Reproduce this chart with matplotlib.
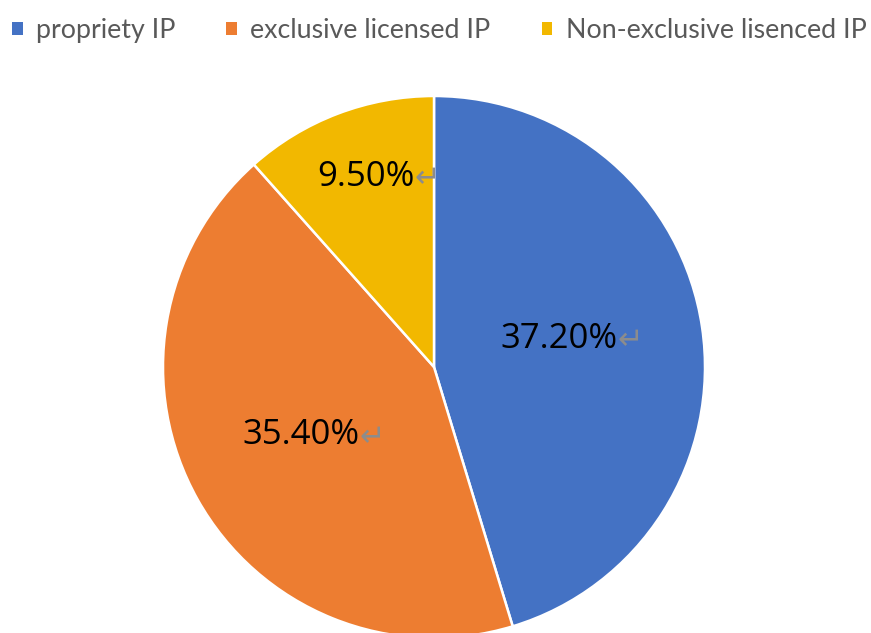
import numpy as np
import matplotlib.pyplot as plt
from matplotlib.patches import Patch

categories = ["propriety IP", "exclusive licensed IP", "Non-exclusive lisenced IP"]
values = [37.2, 35.4, 9.5]
colors = ["#4472C4", "#ED7D31", "#F2B800"]
label_dist = [0.474, 0.551, 0.745]
label_turn = [4, -2, -1]  # degrees off the wedge middle

plt.rcParams['font.family'] = ['Lato', 'DejaVu Sans']

fig = plt.figure(figsize=(8.71, 6.33), dpi=100)
ax = fig.add_axes([0, 0, 1, 1])

wedges, _ = ax.pie(values, colors=colors, startangle=90, counterclock=False,
                   radius=1, wedgeprops=dict(edgecolor="white", linewidth=1.8))

# pie centre at (434, 367) px, radius 271 px
r = 271
ax.set_xlim(-434 / r, (871 - 434) / r)
ax.set_ylim(-(633 - 367) / r, 367 / r)
ax.set_aspect('auto')
ax.axis('off')

for w, v, d, dt in zip(wedges, values, label_dist, label_turn):
    ang = np.deg2rad((w.theta1 + w.theta2) / 2 + dt)
    t = ax.text(d * np.cos(ang), d * np.sin(ang), f"{v:.2f}%", ha='center', va='center',
                fontsize=25, color='black', family=['Open Sans', 'DejaVu Sans'])
    ax.annotate("\u21b5", xy=(1, 0.45), xycoords=t, va='center', ha='left',
                fontsize=22, color='#8c8c8c', family='DejaVu Sans')

handles = [Patch(facecolor=c, edgecolor='none') for c in colors]
fig.legend(handles, categories, loc='upper left', bbox_to_anchor=(0.0, 0.99), ncol=3,
           frameon=False, fontsize=19.3, labelcolor='#595959', handlelength=0.4,
           handleheight=0.4, handletextpad=0.5, columnspacing=1.9, borderpad=0.2,
           borderaxespad=0.24)

fig.savefig("out.png", dpi=100)
